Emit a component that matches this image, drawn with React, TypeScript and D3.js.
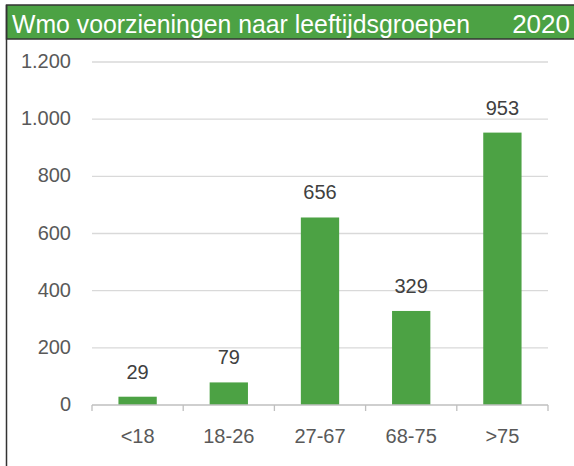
import React from "react";
import { scaleBand, scaleLinear } from "d3";

const categories = ["<18", "18-26", "27-67", "68-75", ">75"];
const values = [29, 79, 656, 329, 953];
const yTicks = [0, 200, 400, 600, 800, 1000, 1200];
const yTickLabels = ["0", "200", "400", "600", "800", "1.000", "1.200"];
const title = "Wmo voorzieningen naar leeftijdsgroepen";
const year = "2020";

export default function App() {
  const width = 574,
    height = 466;
  const plot = { left: 92, right: 548, top: 62, bottom: 405 };
  const green = "#4ca244";
  const textColor = "#595959";
  const font = "'Liberation Sans', Arial, sans-serif";

  const xScale = scaleBand<string>()
    .domain(categories)
    .range([plot.left, plot.right])
    .paddingInner(0.58)
    .paddingOuter(0.29);

  const yScale = scaleLinear().domain([0, 1200]).range([plot.bottom, plot.top]);

  const step = xScale.step();
  const tickXs = categories
    .map(c => (xScale(c) as number) - step * 0.29)
    .concat([plot.right]);

  return (
    <svg
      width={width}
      height={height}
      style={{ position: "absolute", left: 0, top: 0, background: "#fff" }}
    >
      {/* title bar */}
      <rect x={6.5} y={5} width={width} height={34} fill={green} stroke="#333" strokeWidth={1.5} />
      <text
        x={12}
        y={33}
        fill="#fff"
        fontFamily="'Liberation Sans Narrow', 'Liberation Sans', Arial, sans-serif"
        fontSize={26}
        textLength={458}
        lengthAdjust="spacingAndGlyphs"
      >
        {title}
      </text>
      <text
        x={570}
        y={33}
        fill="#fff"
        textAnchor="end"
        fontFamily="'Liberation Sans Narrow', 'Liberation Sans', Arial, sans-serif"
        fontSize={26}
      >
        {year}
      </text>
      <line x1={6.5} x2={6.5} y1={5} y2={height} stroke="#333" strokeWidth={1.5} />

      {/* gridlines and y labels */}
      {yTicks.map((t, i) => (
        <g key={t}>
          {t > 0 && (
            <line
              x1={plot.left}
              x2={plot.right}
              y1={yScale(t)}
              y2={yScale(t)}
              stroke="#d9d9d9"
              strokeWidth={1.3}
            />
          )}
          <text
            x={71}
            y={yScale(t) + 6}
            textAnchor="end"
            fill={textColor}
            fontFamily={font}
            fontSize={20}
          >
            {yTickLabels[i]}
          </text>
        </g>
      ))}

      {/* bars */}
      {values.map((v, i) => (
        <rect
          key={categories[i]}
          x={xScale(categories[i])}
          y={yScale(v)}
          width={xScale.bandwidth()}
          height={yScale(0) - yScale(v)}
          fill={green}
        />
      ))}

      {/* x axis */}
      <line
        x1={plot.left}
        x2={plot.right}
        y1={plot.bottom}
        y2={plot.bottom}
        stroke="#bfbfbf"
        strokeWidth={1.3}
      />
      {tickXs.map((x, i) => (
        <line key={i} x1={x} x2={x} y1={plot.bottom} y2={plot.bottom + 6} stroke="#bfbfbf" strokeWidth={1.3} />
      ))}
      {categories.map(c => (
        <text
          key={c}
          x={(xScale(c) as number) + xScale.bandwidth() / 2}
          y={443}
          textAnchor="middle"
          fill={textColor}
          fontFamily={font}
          fontSize={20}
        >
          {c}
        </text>
      ))}

      {/* value labels */}
      {values.map((v, i) => (
        <text
          key={"v" + i}
          x={(xScale(categories[i]) as number) + xScale.bandwidth() / 2}
          y={yScale(v) - 18}
          textAnchor="middle"
          fill="#404040"
          fontFamily={font}
          fontSize={20}
        >
          {v}
        </text>
      ))}
    </svg>
  );
}
